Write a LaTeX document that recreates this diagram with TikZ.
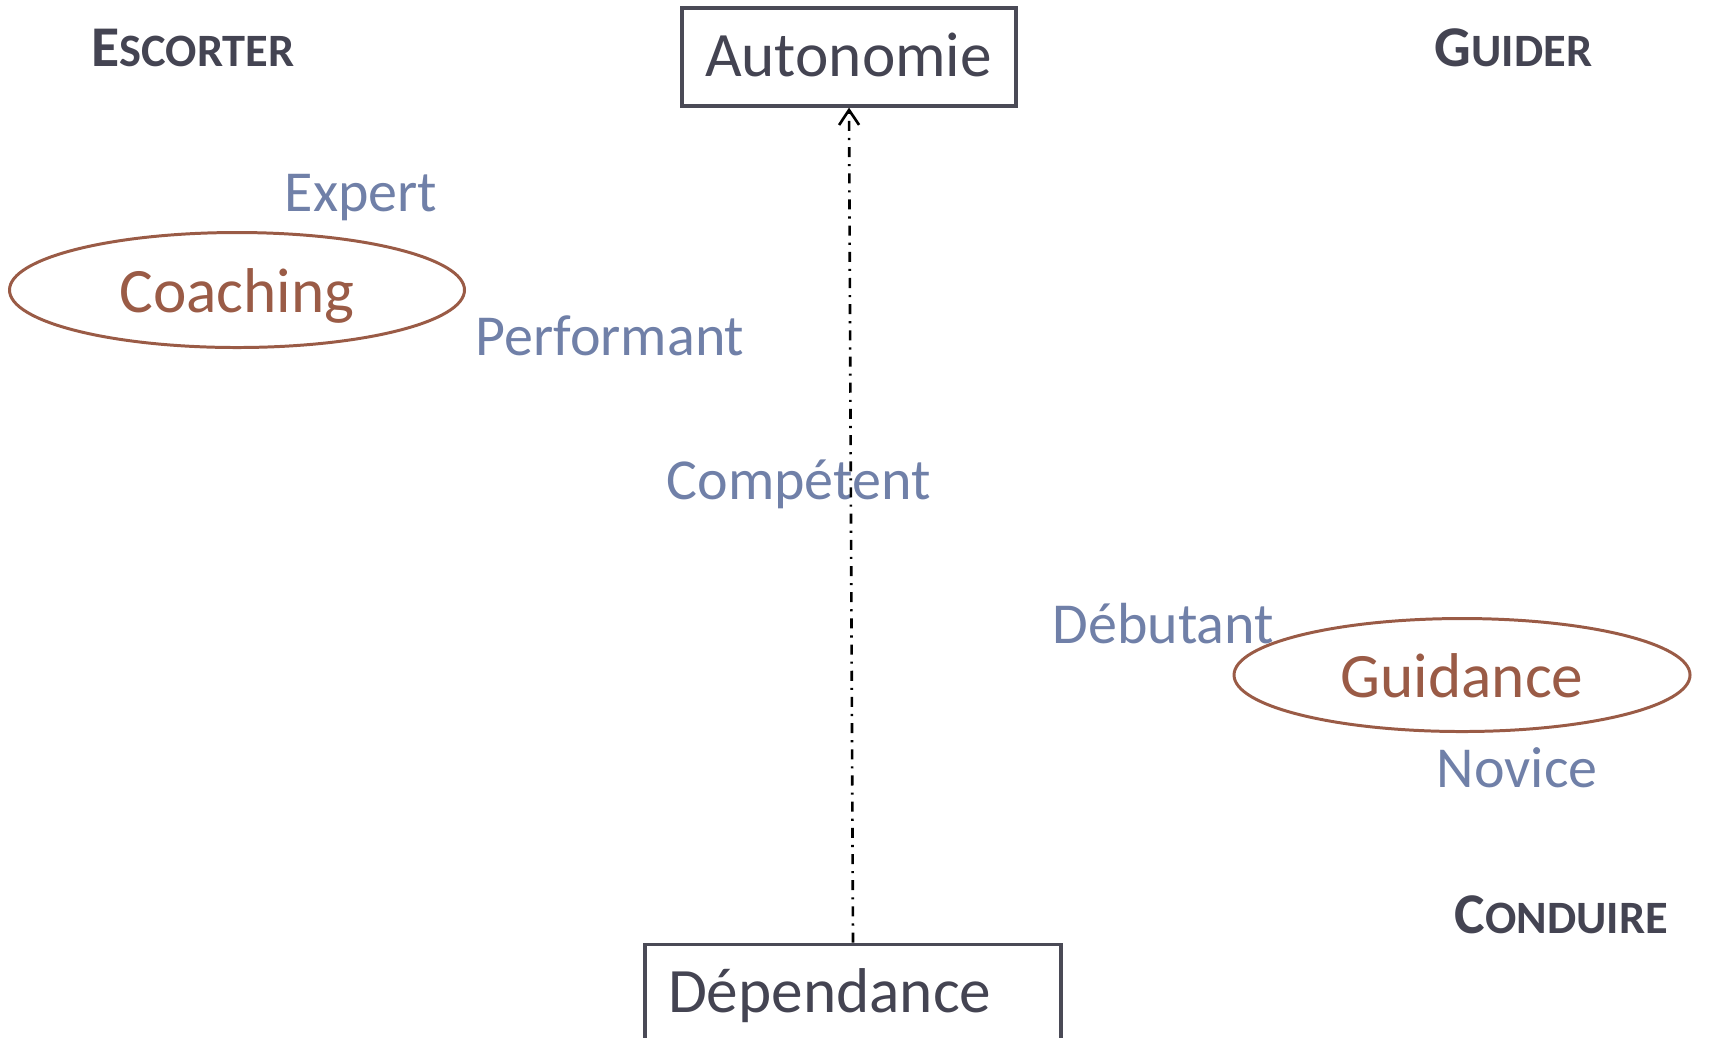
\documentclass[tikz,border=0pt]{standalone}
\usepackage{fontspec}
\setmainfont{Carlito}
\usetikzlibrary{positioning,shapes.geometric,arrows.meta}

\definecolor{cTitre}{RGB}{68,68,82}
\definecolor{cNiveau}{RGB}{112,128,168}
\definecolor{cMode}{RGB}{154,91,70}
\definecolor{cCadre}{RGB}{74,74,86}

% petites capitales faites a la main
\newcommand{\petitcap}[2]{{\bfseries\fontsize{16.4}{19}\selectfont #1\fontsize{13.2}{15}\selectfont #2}}

\tikzset{
  pole/.style={draw=cCadre, line width=0.9pt, text=cTitre, align=left,
    font=\fontsize{18}{20}\selectfont, minimum height=9.8mm,
    inner xsep=2.3mm, text height=3.8mm, text depth=0mm},
  mode/.style={ellipse, draw=cMode, line width=0.85pt, text=cMode, inner sep=0,
    font=\fontsize{18}{20}\selectfont, text height=4.4mm, text depth=0mm},
  niveau/.style={anchor=base west, inner sep=0, text=cNiveau,
    font=\fontsize{16.5}{19}\selectfont},
  posture/.style={anchor=base west, inner sep=0, text=cTitre},
  fleche/.style={-{Straight Barb[length=1.5mm,width=2mm]}, line width=0.75pt,
    dash pattern=on 2.85pt off 2pt on 0.6pt off 2pt}
}

\begin{document}
\begin{tikzpicture}[x=0.1mm, y=-0.1mm]
  \useasboundingbox (0,0) rectangle (1711,1037);

  % les deux poles
  \node[pole, text width=28.8mm] (autonomie) at (849,57) {Autonomie};
  \node[pole, text width=37mm, below=83.5mm of autonomie, xshift=0.4mm] (dependance) {Dépendance};

  % styles de management
  \node[mode, minimum width=45.5mm, minimum height=11.5mm] (coaching) at (237,290) {Coaching};
  \node[mode, minimum width=45.6mm, minimum height=11.3mm] (guidance) at (1462,675) {Guidance};

  \node[posture] (escorter) at (91,66) {\petitcap{E}{SCORTER}};
  \node[posture] (guider) at (1434,66) {\petitcap{G}{UIDER}};
  \node[posture] (conduire) at (1454,933) {\petitcap{C}{ONDUIRE}};

  % niveaux
  \node[niveau] (expert) at (284,211) {Expert};
  \node[niveau] (performant) at (475,355) {Performant};
  \node[niveau] (competent) at (666,499) {Compétent};
  \node[niveau] (debutant) at (1052,643) {Débutant};
  \node[niveau] (novice) at (1436,787) {Novice};

  \draw[fleche] (dependance.north) -- (autonomie.south);
\end{tikzpicture}
\end{document}
